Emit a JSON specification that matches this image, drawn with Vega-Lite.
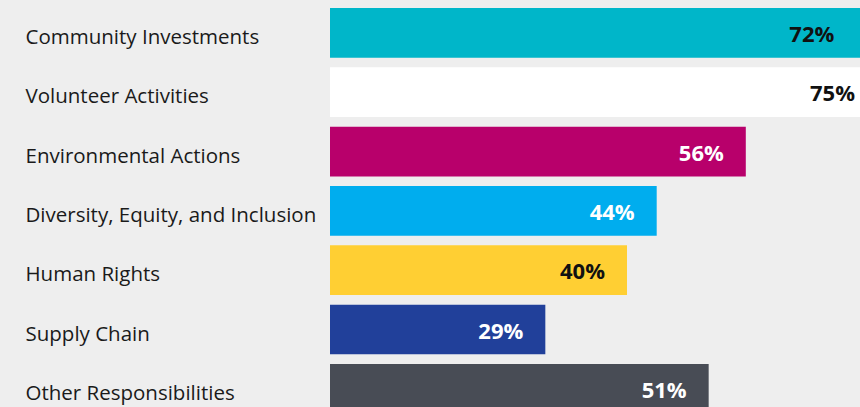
{
  "$schema": "https://vega.github.io/schema/vega-lite/v6.json",
  "autosize": {"type": "none"},
  "width": 530,
  "height": 407,
  "padding": {"left": 330, "top": 0, "right": 0, "bottom": 0},
  "background": "#eeeeee",
  "config": {"view": {"stroke": null}},
  "data": {
    "values": [
      {"category": "Community Investments", "value": 72, "label": "72%"},
      {"category": "Volunteer Activities", "value": 75, "label": "75%"},
      {"category": "Environmental Actions", "value": 56, "label": "56%"},
      {"category": "Diversity, Equity, and Inclusion", "value": 44, "label": "44%"},
      {"category": "Human Rights", "value": 40, "label": "40%"},
      {"category": "Supply Chain", "value": 29, "label": "29%"},
      {"category": "Other Responsibilities", "value": 51, "label": "51%"}
    ]
  },
  "encoding": {
    "y": {
      "field": "category",
      "type": "nominal",
      "sort": null,
      "scale": {"range": [8, 413.7], "paddingInner": 0.162, "paddingOuter": 0},
      "axis": {
        "title": null,
        "orient": "left",
        "domain": false,
        "ticks": false,
        "tickSize": 0,
        "labelAlign": "left",
        "labelBaseline": "middle",
        "labelPadding": 305,
        "labelOffset": 5,
        "labelLimit": 400,
        "labelFont": "Open Sans",
        "labelFontSize": 20.5,
        "labelColor": "#1a1a1a"
      }
    }
  },
  "layer": [
    {
      "mark": {"type": "bar"},
      "encoding": {
        "x": {
          "field": "value",
          "type": "quantitative",
          "scale": {"domain": [0, 100], "range": [0, 742.5], "nice": false},
          "axis": null
        },
        "color": {
          "field": "category",
          "type": "nominal",
          "legend": null,
          "scale": {
            "domain": ["Community Investments", "Volunteer Activities", "Environmental Actions", "Diversity, Equity, and Inclusion", "Human Rights", "Supply Chain", "Other Responsibilities"],
            "range": ["#00b6c9", "#ffffff", "#b8006b", "#00adee", "#ffcf33", "#21409a", "#484c55"]
          }
        }
      }
    },
    {
      "mark": {"type": "text", "align": "right", "baseline": "middle", "dx": -22, "dy": 2, "font": "Open Sans", "fontSize": 22, "fontWeight": "bold"},
      "encoding": {
        "x": {
          "field": "value",
          "type": "quantitative",
          "scale": {"domain": [0, 56, 75], "range": [0, 415.8, 547], "nice": false},
          "axis": null
        },
        "text": {"field": "label", "type": "nominal"},
        "color": {
          "field": "category",
          "type": "nominal",
          "legend": null,
          "scale": {
            "domain": ["Community Investments", "Volunteer Activities", "Environmental Actions", "Diversity, Equity, and Inclusion", "Human Rights", "Supply Chain", "Other Responsibilities"],
            "range": ["#111111", "#111111", "#ffffff", "#ffffff", "#111111", "#ffffff", "#ffffff"]
          }
        }
      }
    }
  ],
  "resolve": {"scale": {"color": "independent", "x": "independent"}}
}
